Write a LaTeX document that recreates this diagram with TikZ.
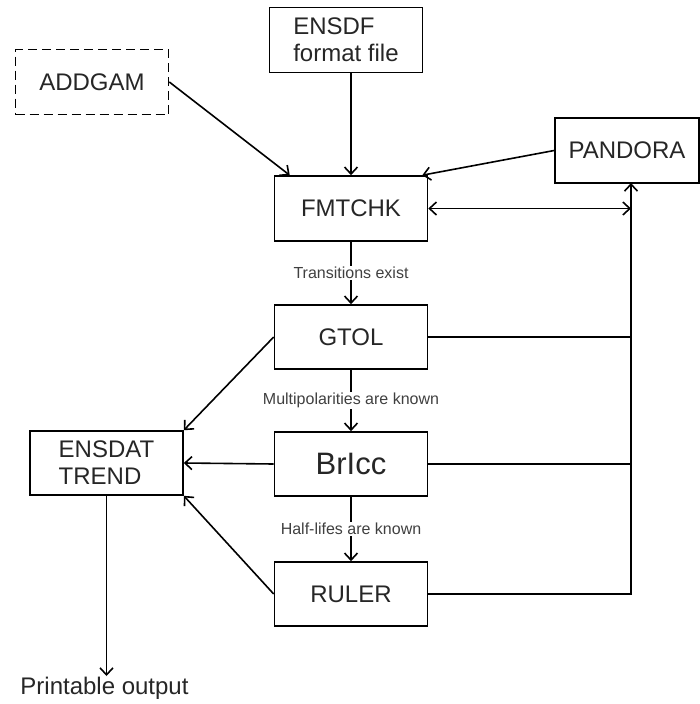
\documentclass[tikz,border=0pt]{standalone}
\usepackage{fontspec}
\setmainfont{Liberation Sans}
\usepackage{tikz}
\usetikzlibrary{arrows.meta,calc}
\tikzset{box/.style={draw, line width=1.6pt, minimum width=153pt, minimum height=65pt, inner sep=0pt, text=black!85, font=\fontsize{24}{27}\selectfont},
         conn/.style={line width=1.6pt},
         lab/.style={fill=white, inner sep=1pt, text=black!75, font=\fontsize{16}{18}\selectfont}}

\begin{document}
\begin{tikzpicture}[x=1pt, y=-1pt, >={Straight Barb[length=7pt,width=13pt,line width=1.6pt]}]
                      \useasboundingbox (0,0) rectangle (700,704);
                      \node [box, align=left] (ensdf) at (346,40) {ENSDF\\format file};
                      \node [box, dashed, dash pattern=on 9pt off 5pt] (addgam) at (92,82) {ADDGAM};
                      \node [box, minimum width=144pt] (pandora) at (627,150.5) {PANDORA};
                      \node [box] (fmtchk) at (351,208.5) {FMTCHK};
                      \node [box, minimum height=64pt] (gtol) at (351,337) {GTOL};
                      \node [box, minimum height=64pt, font=\fontsize{31}{34}\selectfont] (bricc) at (351,464) {BrIcc};
                      \node [box, minimum height=64pt] (ruler) at (351,594) {RULER};
                      \node [box, minimum height=64pt, align=left] (ensdat) at (106.5,463) {ENSDAT\\TREND};
                      \node [anchor=north, inner sep=1pt, text=black!85, font=\fontsize{24}{28}\selectfont] (output) at (104.5,676) {Printable output};
                      \coordinate (bus) at (631,183);
                      \draw[conn,->] (addgam.east) -- ([xshift=16pt]fmtchk.north west);
                      \draw[conn,->] (fmtchk.north |- ensdf.south) -- (fmtchk.north);
                      \draw[conn,->] (pandora.west) -- ([xshift=-6pt]fmtchk.north east);
                      \draw[conn,<->] (fmtchk.east) -- (fmtchk.east -| bus);
                      \draw[conn,->] (fmtchk) -- node [lab] {Transitions exist} (gtol);
                      \draw[conn,->] (gtol) -- node [lab] {Multipolarities are known} (bricc);
                      \draw[conn,->] (bricc) -- node [lab] {Half-lifes are known} (ruler);
                      \draw[conn] (gtol.east) -- (gtol.east -| bus);
                      \draw[conn] (bricc.east) -- (bricc.east -| bus);
                      \draw[conn,->] (ruler.east) -| (bus);
                      \draw[conn,->] (gtol.west) -- (ensdat.north east);
                      \draw[conn,->] (bricc.west) -- (ensdat.east);
                      \draw[conn,->] (ruler.west) -- (ensdat.south east);
                      \draw[conn,->] (ensdat.south) -- (output.north -| ensdat.south);
                  \end{tikzpicture}
\end{document}
